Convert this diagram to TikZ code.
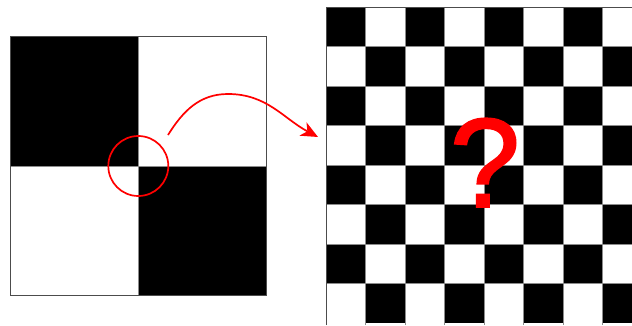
\documentclass[tikz,border=0pt]{standalone}
\usepackage{fontspec}
\newfontfamily\qfont[FakeBold=1.4]{Liberation Sans}
\usetikzlibrary{arrows.meta}
\tikzset{
  frameline/.style={draw=black!70, line width=0.9pt},
  gridline/.style={draw=black!45, line width=0.7pt},
  redline/.style={draw=red, line width=1.7pt},
}
\begin{document}
\begin{tikzpicture}[x=1pt,y=1pt]
\useasboundingbox (0,0) rectangle (632,325);
% left square
\fill[black] (10,159) rectangle (138.3,288.3);
\fill[black] (138.3,159) rectangle (266.3,30);
\draw[gridline] (10,159) -- (266.3,159);
\draw[gridline] (138.3,30) -- (138.3,288.3);
\draw[frameline] (10,30) rectangle (266.3,288.3);
% zoom circle
\node[circle, redline, minimum size=60pt, inner sep=0pt] (zoom) at (138.3,159) {};
% board
\begin{scope}
\clip (324,0) rectangle (632,325);
\foreach \i in {0,...,7}{
  \foreach \j in {0,...,7}{
    \pgfmathtruncatemacro{\p}{mod(\i+\j,2)}
    \ifnum\p=0
      \fill[black] (326+\i*39.5,317.7-\j*39.5) rectangle ++(39.5,-39.5);
    \fi
  }
}
\foreach \i in {1,...,7}{
  \draw[gridline] (326+\i*39.5,0) -- (326+\i*39.5,317.7);
  \draw[gridline] (326,317.7-\i*39.5) -- (632,317.7-\i*39.5);
}
\draw[frameline] (326,0) -- (326,317.7) -- (633,317.7);
\end{scope}
% question mark
\node[anchor=base, inner sep=0pt, text=red, font=\qfont\fontsize{127}{127}\selectfont] (q) at (485,118) {?};
% arrow
\coordinate (a0) at (168,190);
\coordinate (a1) at (228,231);
\coordinate (a2) at (318,188);
\draw[redline, -{Stealth[length=17pt,width=15pt,inset=5pt]}] (a0) to[out=58,in=180] (a1) to[out=0,in=152] (a2);
\end{tikzpicture}
\end{document}
